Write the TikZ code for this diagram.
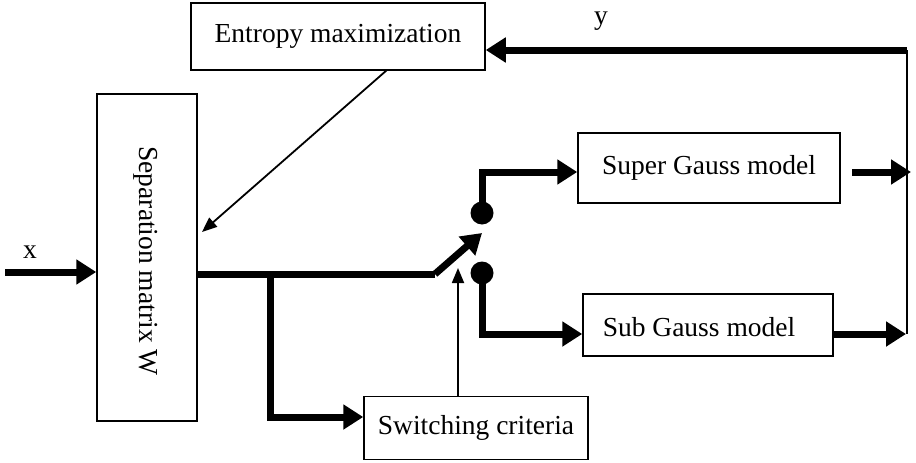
\documentclass[tikz,border=0pt]{standalone}
\usepackage{fontspec}
\setmainfont{Liberation Serif}
\usetikzlibrary{arrows.meta}
\begin{document}
\begin{tikzpicture}[x=1pt,y=-1pt,
  every node/.style={font=\fontsize{27.5}{31}\selectfont, inner sep=0pt},
  blk/.style={draw, line width=1.5pt, minimum width=#1},
  thickline/.style={line width=7pt, line join=miter},
  thickarrow/.style={thickline, -{Triangle[length=20pt,width=24pt]}},
  thinline/.style={line width=1.8pt},
  thinarrow/.style={thinline, -{Triangle[length=15pt,width=12pt]}},
  dot/.style={circle, fill, minimum size=23pt}]
\useasboundingbox (0,0) rectangle (916,463);
% blocks
\node[blk=294pt, minimum height=67pt] (ent) at (338,36.5) {Entropy maximization};
\node[blk=100pt, minimum height=327pt] (sep) at (147,257.5) {};
\node[rotate=-90] (septxt) at (146,261) {Separation matrix W};
\node[blk=262pt, minimum height=70pt] (sup) at (709,168) {Super Gauss model};
\node[blk=250pt, minimum height=62pt] (sub) at (708,325) {};
\node (subtxt) at (699,327) {Sub Gauss model};
\node[blk=224pt, minimum height=63pt] (sw) at (476,428) {Switching criteria};
% labels
\node (xl) at (30,252) {x};
\node (yl) at (601,21) {y};
% dots
\node[dot] (up) at (482,213) {};
\node[dot] (lo) at (482,273) {};
% coordinates
\coordinate (xin) at (5,272);
\coordinate (s0) at (435,274);
\coordinate (lev) at (482,233);
\coordinate (br) at (270,274);
\coordinate (brc) at (270,417);
\coordinate (swup) at (458,268);
\coordinate (upc) at (482,172);
\coordinate (loc) at (482,334);
\coordinate (supo) at (852,172);
\coordinate (supt) at (911,172);
\coordinate (subo) at (sub.east |- loc);
\coordinate (subt) at (906,334);
\coordinate (rt) at (907,50);
\coordinate (rb) at (907,334);
\coordinate (ento) at (387,70);
\coordinate (sept) at (202,232);
% connectors
\draw[thickarrow] (xin) -- (xin -| sep.west);
\draw[thickline] (sep.east |- s0) -- (s0);
\draw[thickarrow, line join=round] (s0) -- (lev);
\draw[thickarrow] (br) -- (brc) -- (brc -| sw.west);
\draw[thinarrow] (swup |- sw.north) -- (swup);
\draw[thickarrow] (up.center) -- (upc) -- (upc -| sup.west);
\draw[thickarrow] (lo.center) -- (loc) -- (loc -| sub.west);
\draw[thickarrow] (supo) -- (supt);
\draw[thickarrow] (subo) -- (subt);
\draw[thinline] (rt) -- (rb);
\draw[thickarrow] (rt) -- (rt -| ent.east);
\draw[thinarrow] (ento) -- (sept);
\end{tikzpicture}
\end{document}
